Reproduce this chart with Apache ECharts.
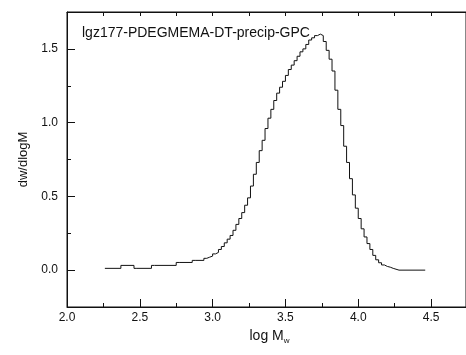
<!DOCTYPE html>
<html>
<head>
<meta charset="utf-8">
<style>
  html, body { margin: 0; padding: 0; background: #fff; }
  #chart { width: 466px; height: 355px; }
</style>
<script src="https://cdn.jsdelivr.net/npm/echarts@6/dist/echarts.min.js"></script>
</head>
<body>
<div id="chart"></div>
<script>
// GPC trace, log Mw vs dw/dlogM
const logMw = [
  2.26, 2.37, 2.38, 2.46, 2.48, 2.58, 2.60, 2.75, 2.77, 2.86,
  2.88, 2.94, 2.96, 2.98, 3.00, 3.02, 3.04, 3.06, 3.08, 3.10,
  3.12, 3.14, 3.16, 3.18, 3.20, 3.22, 3.24, 3.26, 3.28, 3.30,
  3.32, 3.34, 3.36, 3.38, 3.40, 3.42, 3.44, 3.46, 3.48, 3.50,
  3.52, 3.54, 3.56, 3.58, 3.60, 3.62, 3.64, 3.66, 3.68, 3.70,
  3.72, 3.74, 3.76, 3.78, 3.80, 3.82, 3.84, 3.86, 3.88, 3.90,
  3.92, 3.94, 3.96, 3.98, 4.00, 4.02, 4.04, 4.06, 4.08, 4.10,
  4.12, 4.14, 4.16, 4.18, 4.20, 4.22, 4.24, 4.28, 4.46
];
const dwdlogM = [
  0.012, 0.012, 0.032, 0.032, 0.012, 0.012, 0.032, 0.032, 0.052, 0.052,
  0.066, 0.066, 0.08, 0.088, 0.095, 0.11, 0.12, 0.14, 0.16, 0.185,
  0.21, 0.235, 0.27, 0.31, 0.35, 0.39, 0.44, 0.49, 0.57, 0.65,
  0.73, 0.81, 0.88, 0.96, 1.03, 1.09, 1.15, 1.20, 1.24, 1.28,
  1.32, 1.36, 1.39, 1.42, 1.45, 1.48, 1.50, 1.53, 1.56, 1.575,
  1.59, 1.60, 1.59, 1.55, 1.49, 1.43, 1.35, 1.22, 1.09, 0.98,
  0.84, 0.73, 0.62, 0.51, 0.42, 0.35, 0.28, 0.225, 0.18, 0.14,
  0.10, 0.07, 0.05, 0.035, 0.025, 0.02, 0.012, 0.0, 0.0
];

const xMajor = [2.0, 2.5, 3.0, 3.5, 4.0, 4.5];
const xMinor = [2.25, 2.75, 3.25, 3.75, 4.25];
const xTop = [2.25, 2.5, 2.75, 3.0, 3.25, 3.5, 3.75, 4.0, 4.25, 4.5];
const yMajor = [0.0, 0.5, 1.0, 1.5];
const yMinor = [0.25, 0.75, 1.25];

const sampleName = 'lgz177-PDEGMEMA-DT-precip-GPC';

const font = '"Liberation Sans", Arial, sans-serif';
const ink = '#111';

const chart = echarts.init(document.getElementById('chart'), null, { renderer: 'canvas' });

// the frame runs just past the right edge of the picture, the x range is cut there
const baseX = { type: 'value', min: 2.0, max: 4.74, splitLine: { show: false } };
const baseY = { type: 'value', min: -0.25, max: 1.75, splitLine: { show: false } };

chart.setOption({
  animation: false,
  title: {
    text: sampleName,
    left: 77,
    top: 21,
    textStyle: { fontFamily: font, fontSize: 14, fontWeight: 'normal', color: ink }
  },
  // grid border draws the plot frame
  grid: {
    left: 67, top: 12, width: 400, height: 295,
    show: true, borderColor: ink, borderWidth: 1, backgroundColor: 'transparent'
  },
  xAxis: [
    {
      ...baseX,
      position: 'bottom',
      axisLine: { show: true, onZero: false, lineStyle: { color: ink, width: 1 } },
      axisTick: { show: true, inside: true, length: 8, customValues: xMajor, lineStyle: { color: ink } },
      axisLabel: {
        customValues: xMajor, margin: 5, color: ink, fontFamily: font, fontSize: 12,
        formatter: (v) => v.toFixed(1)
      },
      name: 'log M{sub|w}',
      nameLocation: 'middle',
      nameGap: 17,
      nameTextStyle: {
        fontFamily: font, fontSize: 14, color: ink, padding: [0, 0, 0, 6],
        rich: { sub: { fontFamily: font, fontSize: 8, color: ink, verticalAlign: 'bottom', padding: [9, 0, 0, 0] } }
      }
    },
    {
      ...baseX,
      position: 'bottom',
      axisLine: { show: false, onZero: false },
      axisTick: { show: true, inside: true, length: 4, customValues: xMinor, lineStyle: { color: ink } },
      axisLabel: { show: false }
    },
    {
      ...baseX,
      position: 'top',
      axisLine: { show: true, onZero: false, lineStyle: { color: ink, width: 1 } },
      axisTick: { show: true, inside: true, length: 4, customValues: xTop, lineStyle: { color: ink } },
      axisLabel: { show: false }
    }
  ],
  yAxis: [
    {
      ...baseY,
      position: 'left',
      axisLine: { show: true, onZero: false, lineStyle: { color: ink, width: 1 } },
      axisTick: { show: true, inside: true, length: 8, customValues: yMajor, lineStyle: { color: ink } },
      axisLabel: {
        customValues: yMajor, margin: 9, color: ink, fontFamily: font, fontSize: 12,
        formatter: (v) => v.toFixed(1)
      },
      name: 'dw/dlogM',
      nameLocation: 'middle',
      nameGap: 37,
      nameRotate: 90,
      nameTextStyle: { fontFamily: font, fontSize: 13, color: ink }
    },
    {
      ...baseY,
      position: 'left',
      axisLine: { show: false, onZero: false },
      axisTick: { show: true, inside: true, length: 4, customValues: yMinor, lineStyle: { color: ink } },
      axisLabel: { show: false }
    }
  ],
  series: [
    {
      type: 'line',
      data: logMw.map((x, i) => [x, dwdlogM[i]]),
      step: 'start',
      showSymbol: false,
      symbol: 'none',
      lineStyle: { color: ink, width: 1 },
      xAxisIndex: 0,
      yAxisIndex: 0
    }
  ]
});
</script>
</body>
</html>
